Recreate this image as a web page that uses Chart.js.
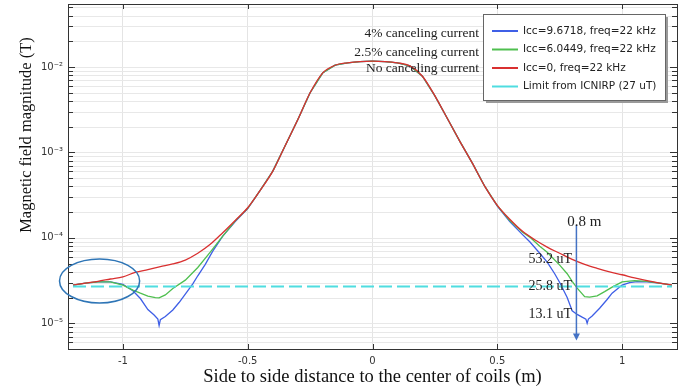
<!DOCTYPE html>
<html>
<head>
<meta charset="utf-8">
<script src="https://cdn.jsdelivr.net/npm/chart.js@4.4.1/dist/chart.umd.min.js"></script>
<style>
  html, body { margin: 0; padding: 0; background: #fff; }
  #wrap { width: 700px; height: 391px; }
</style>
</head>
<body>
<div id="wrap"><canvas id="chart"></canvas></div>
<script>
// distance to coil centre (m) / field magnitude (T)
const redX = [-1.2, -1.15, -1.1, -1.05, -1.0, -0.95, -0.9, -0.85, -0.8, -0.75, -0.7, -0.65, -0.6, -0.55,
  -0.5, -0.45, -0.4, -0.35, -0.3, -0.25, -0.2, -0.15, -0.1, -0.05, 0, 0.05, 0.1, 0.15, 0.2, 0.25, 0.3, 0.35, 0.4, 0.45, 0.5,
  0.55, 0.6, 0.65, 0.7, 0.75, 0.8, 0.85, 0.9, 0.95, 1.0, 1.05, 1.1, 1.15, 1.2];
const redY = [2.8e-5, 2.95e-5, 3.1e-5, 3.3e-5, 3.5e-5, 3.95e-5, 4.25e-5, 4.6e-5, 4.95e-5, 5.5e-5, 6.6e-5, 8.4e-5, 1.15e-4, 1.6e-4,
  2.25e-4, 3.6e-4, 6.0e-4, 1.2e-3, 2.4e-3, 5.0e-3, 8.5e-3, 1.05e-2, 1.12e-2, 1.16e-2, 1.17e-2, 1.16e-2, 1.12e-2, 1.03e-2, 7.8e-3, 4.6e-3, 2.5e-3, 1.35e-3, 7.5e-4, 4.0e-4, 2.4e-4,
  1.65e-4, 1.2e-4, 9.5e-5, 7.8e-5, 6.6e-5, 5.6e-5, 4.9e-5, 4.4e-5, 4.0e-5, 3.7e-5, 3.4e-5, 3.15e-5, 2.95e-5, 2.8e-5];

const blueX = [-1.2, -1.15, -1.1, -1.05, -1.0, -0.96, -0.93, -0.9, -0.875, -0.86, -0.855, -0.85, -0.83, -0.8, -0.775, -0.75, -0.72, -0.7, -0.67, -0.64, -0.6, -0.55,
  -0.5, -0.45, -0.4, -0.35, -0.3, -0.25, -0.2, -0.15, -0.1, -0.05, 0, 0.05, 0.1, 0.15, 0.2, 0.25, 0.3, 0.35, 0.4, 0.45, 0.5,
  0.55, 0.6, 0.63, 0.67, 0.7, 0.73, 0.75, 0.78, 0.8, 0.82, 0.84, 0.855, 0.86, 0.865, 0.88, 0.91, 0.94, 0.96, 1.0, 1.03, 1.06, 1.1, 1.15, 1.2];
const blueY = [2.8e-5, 2.95e-5, 3.05e-5, 3.05e-5, 2.85e-5, 2.4e-5, 1.95e-5, 1.45e-5, 1.25e-5, 1.12e-5, 9.4e-6, 1.1e-5, 1.2e-5, 1.43e-5, 1.75e-5, 2.2e-5, 2.9e-5, 3.6e-5, 4.9e-5, 7.0e-5, 1.05e-4, 1.55e-4,
  2.2e-4, 3.6e-4, 6.0e-4, 1.2e-3, 2.4e-3, 5.0e-3, 8.5e-3, 1.05e-2, 1.12e-2, 1.16e-2, 1.17e-2, 1.16e-2, 1.12e-2, 1.03e-2, 7.8e-3, 4.6e-3, 2.5e-3, 1.35e-3, 7.5e-4, 4.0e-4, 2.35e-4,
  1.55e-4, 1.1e-4, 9.0e-5, 6.6e-5, 5.2e-5, 3.8e-5, 3.0e-5, 2.0e-5, 1.4e-5, 1.27e-5, 1.18e-5, 1.12e-5, 1.0e-5, 1.12e-5, 1.22e-5, 1.5e-5, 1.9e-5, 2.25e-5, 2.8e-5, 3.0e-5, 3.08e-5, 3.05e-5, 2.95e-5, 2.8e-5];

const greenX = [-1.2, -1.15, -1.1, -1.05, -1.0, -0.96, -0.93, -0.9, -0.87, -0.855, -0.83, -0.8, -0.75, -0.7, -0.65, -0.6, -0.55,
  -0.5, -0.45, -0.4, -0.35, -0.3, -0.25, -0.2, -0.15, -0.1, -0.05, 0, 0.05, 0.1, 0.15, 0.2, 0.25, 0.3, 0.35, 0.4, 0.45, 0.5,
  0.55, 0.6, 0.63, 0.67, 0.7, 0.75, 0.78, 0.8, 0.82, 0.85, 0.87, 0.9, 0.93, 0.96, 1.0, 1.05, 1.1, 1.15, 1.2];
const greenY = [2.8e-5, 2.95e-5, 3.05e-5, 3.05e-5, 2.8e-5, 2.45e-5, 2.25e-5, 2.08e-5, 2.0e-5, 1.98e-5, 2.15e-5, 2.55e-5, 3.2e-5, 4.5e-5, 6.8e-5, 1.05e-4, 1.58e-4,
  2.22e-4, 3.6e-4, 6.0e-4, 1.2e-3, 2.4e-3, 5.0e-3, 8.5e-3, 1.05e-2, 1.12e-2, 1.16e-2, 1.17e-2, 1.16e-2, 1.12e-2, 1.03e-2, 7.8e-3, 4.6e-3, 2.5e-3, 1.35e-3, 7.5e-4, 4.0e-4, 2.38e-4,
  1.6e-4, 1.17e-4, 1.02e-4, 8.0e-5, 6.8e-5, 4.8e-5, 3.8e-5, 3.1e-5, 2.58e-5, 2.05e-5, 2.02e-5, 2.1e-5, 2.35e-5, 2.65e-5, 3.05e-5, 3.15e-5, 3.1e-5, 2.95e-5, 2.8e-5];

const limitX = [-1.2, 1.2];
const limitY = [2.7e-5, 2.7e-5];

const legendLabels = ['Icc=9.6718, freq=22 kHz', 'Icc=6.0449, freq=22 kHz', 'Icc=0, freq=22 kHz', 'Limit from ICNIRP (27 uT)'];
const xTicks = [-1, -0.5, 0, 0.5, 1];
const yDecades = [1e-5, 1e-4, 1e-3, 1e-2];
const yDecadeLabels = ['10⁻⁵', '10⁻⁴', '10⁻³', '10⁻²'];
const yMinor = [6e-6, 7e-6, 8e-6, 9e-6,
  2e-5, 3e-5, 4e-5, 5e-5, 6e-5, 7e-5, 8e-5, 9e-5,
  2e-4, 3e-4, 4e-4, 5e-4, 6e-4, 7e-4, 8e-4, 9e-4,
  2e-3, 3e-3, 4e-3, 5e-3, 6e-3, 7e-3, 8e-3, 9e-3,
  2e-2, 3e-2, 4e-2, 5e-2];
const yTitle = 'Magnetic field magnitude (T)';

const BLUE = '#3f5fe6', GREEN = '#4fbf4f', RED = '#d93030', CYAN = '#4fdde0';
const SERIF = '"Liberation Serif", "Times New Roman", serif';

const pts = (xs, ys) => xs.map((x, i) => ({ x, y: ys[i] }));

// light grid on every log tick, drawn under the curves
const logGrid = {
  id: 'logGrid',
  beforeDatasetsDraw(chart) {
    const { ctx, chartArea: a, scales: { y } } = chart;
    ctx.save();
    ctx.strokeStyle = '#e8e8e8';
    ctx.lineWidth = 1;
    yMinor.concat(yDecades).forEach(v => {
      const py = Math.round(y.getPixelForValue(v)) + 0.5;
      ctx.beginPath(); ctx.moveTo(a.left, py); ctx.lineTo(a.right, py); ctx.stroke();
    });
    ctx.restore();
  },
  afterDatasetsDraw(chart) {
    const { ctx, chartArea: a, scales: { x, y } } = chart;
    ctx.save();
    ctx.strokeStyle = '#333';
    ctx.lineWidth = 1;
    ctx.strokeRect(a.left + 0.5, a.top + 0.5, a.right - a.left, a.bottom - a.top);
    const tick = (x0, y0, x1, y1) => { ctx.beginPath(); ctx.moveTo(x0, y0); ctx.lineTo(x1, y1); ctx.stroke(); };
    yDecades.forEach(v => {
      const py = Math.round(y.getPixelForValue(v)) + 0.5;
      tick(a.left, py, a.left + 7, py);
      tick(a.right, py, a.right - 7, py);
    });
    yMinor.forEach(v => {
      const py = Math.round(y.getPixelForValue(v)) + 0.5;
      tick(a.left, py, a.left + 5, py);
      tick(a.right, py, a.right - 5, py);
    });
    xTicks.forEach(v => {
      const pxl = Math.round(x.getPixelForValue(v)) + 0.5;
      tick(pxl, a.top, pxl, a.top + 5);
      tick(pxl, a.bottom, pxl, a.bottom - 5);
    });
    ctx.restore();
  }
};

// arrow, value labels, ellipse, y title and the boxed legend
const notes = {
  id: 'notes',
  afterDraw(chart) {
    const { ctx, chartArea: a, scales: { x, y } } = chart;
    const P = (vx, vy) => [x.getPixelForValue(vx), y.getPixelForValue(vy)];
    ctx.save();

    // y title sits higher than the plot centre in the original
    ctx.save();
    ctx.translate(27, y.getPixelForValue(1.6e-3));
    ctx.rotate(-Math.PI / 2);
    ctx.font = '16.5px ' + SERIF;
    ctx.fillStyle = '#111';
    ctx.textAlign = 'center';
    ctx.textBaseline = 'middle';
    ctx.fillText(yTitle, 0, 0);
    ctx.restore();

    // arrow at 0.8 m
    const [ax, ay0] = P(0.817, 1.42e-4);
    const ay1 = y.getPixelForValue(6.3e-6);
    ctx.strokeStyle = '#4472c4'; ctx.fillStyle = '#4472c4'; ctx.lineWidth = 1.5;
    ctx.beginPath(); ctx.moveTo(ax, ay0); ctx.lineTo(ax, ay1 - 6); ctx.stroke();
    ctx.beginPath(); ctx.moveTo(ax - 3.5, ay1 - 7); ctx.lineTo(ax + 3.5, ay1 - 7); ctx.lineTo(ax, ay1); ctx.closePath(); ctx.fill();

    ctx.fillStyle = '#222';
    ctx.textBaseline = 'middle';
    ctx.font = '15px ' + SERIF;
    ctx.textAlign = 'left';
    let p = P(0.78, 1.54e-4); ctx.fillText('0.8 m', p[0], p[1]);
    ctx.font = '14px ' + SERIF;
    ctx.textAlign = 'right';
    p = P(0.80, 5.68e-5); ctx.fillText('53.2 uT', p[0], p[1]);
    p = P(0.80, 2.74e-5); ctx.fillText('25.8 uT', p[0], p[1]);
    p = P(0.80, 1.29e-5); ctx.fillText('13.1 uT', p[0], p[1]);
    ctx.font = '13.5px ' + SERIF;
    p = P(0.427, 2.44e-2); ctx.fillText('4% canceling current', p[0], p[1]);
    p = P(0.427, 1.5e-2); ctx.fillText('2.5% canceling current', p[0], p[1]);
    p = P(0.427, 9.5e-3); ctx.fillText('No canceling current', p[0], p[1]);

    // ellipse around the far-left end
    const [ex0, ey0] = P(-1.254, 5.67e-5);
    const [ex1, ey1] = P(-0.933, 1.73e-5);
    ctx.strokeStyle = '#2e75b6'; ctx.lineWidth = 1.5;
    ctx.beginPath();
    ctx.ellipse((ex0 + ex1) / 2, (ey0 + ey1) / 2, (ex1 - ex0) / 2, (ey1 - ey0) / 2, 0, 0, Math.PI * 2);
    ctx.stroke();

    // legend box
    const lw = 182, lh = 86;
    const lx = a.right - 12 - lw, ly = a.top + 10;
    ctx.fillStyle = '#9a9a9a';
    ctx.fillRect(lx + 3, ly + 3, lw, lh);
    ctx.fillStyle = '#fff';
    ctx.fillRect(lx, ly, lw, lh);
    ctx.strokeStyle = '#666'; ctx.lineWidth = 1;
    ctx.strokeRect(lx + 0.5, ly + 0.5, lw, lh);
    const cols = [BLUE, GREEN, RED, CYAN];
    ctx.font = '10.5px "DejaVu Sans", sans-serif';
    ctx.textAlign = 'left';
    legendLabels.forEach((t, i) => {
      const ry = ly + 17 + i * 18.5;
      ctx.strokeStyle = cols[i]; ctx.lineWidth = 2;
      ctx.beginPath(); ctx.moveTo(lx + 9, ry); ctx.lineTo(lx + 35, ry); ctx.stroke();
      ctx.fillStyle = '#222';
      ctx.fillText(t, lx + 40, ry);
    });
    ctx.restore();
  }
};

Chart.defaults.font.family = '"DejaVu Sans", sans-serif';
Chart.defaults.color = '#333';

new Chart(document.getElementById('chart'), {
  type: 'line',
  data: {
    datasets: [
      { label: legendLabels[3], data: pts(limitX, limitY), borderColor: CYAN, borderWidth: 2, borderDash: [13, 5], pointRadius: 0, order: 0 },
      { label: legendLabels[2], data: pts(redX, redY), borderColor: RED, borderWidth: 1.3, pointRadius: 0, cubicInterpolationMode: 'monotone', order: 1 },
      { label: legendLabels[1], data: pts(greenX, greenY), borderColor: GREEN, borderWidth: 1.3, pointRadius: 0, order: 2 },
      { label: legendLabels[0], data: pts(blueX, blueY), borderColor: BLUE, borderWidth: 1.3, pointRadius: 0, order: 3 }
    ]
  },
  options: {
    responsive: true,
    maintainAspectRatio: false,
    animation: false,
    layout: { padding: { top: 4, right: 23, bottom: 0, left: 0 } },
    plugins: { legend: { display: false }, tooltip: { enabled: false } },
    scales: {
      x: {
        type: 'linear', min: -1.22, max: 1.22,
        afterBuildTicks: s => { s.ticks = xTicks.map(v => ({ value: v })); },
        afterFit: s => { s.height = 42; s.paddingLeft = 0; s.paddingRight = 0; },
        grid: { color: '#e4e4e4', drawTicks: false },
        border: { display: false },
        ticks: { padding: 6, font: { size: 10 }, callback: v => String(v) },
        title: { display: true, text: 'Side to side distance to the center of coils (m)', font: { family: SERIF, size: 18.5 }, color: '#111', padding: { top: 0, bottom: 3 } }
      },
      y: {
        type: 'logarithmic', min: 5e-6, max: 0.0547,
        afterBuildTicks: s => { s.ticks = yDecades.map(v => ({ value: v })); },
        afterFit: s => { s.width = 68; s.paddingTop = 0; s.paddingBottom = 0; },
        grid: { display: false, drawTicks: false },
        border: { display: false },
        ticks: { padding: 5, autoSkip: false, font: { size: 10 }, callback: v => yDecadeLabels[yDecades.indexOf(v)] ?? '' },
        title: { display: false }
      }
    }
  },
  plugins: [logGrid, notes]
});
</script>
</body>
</html>
